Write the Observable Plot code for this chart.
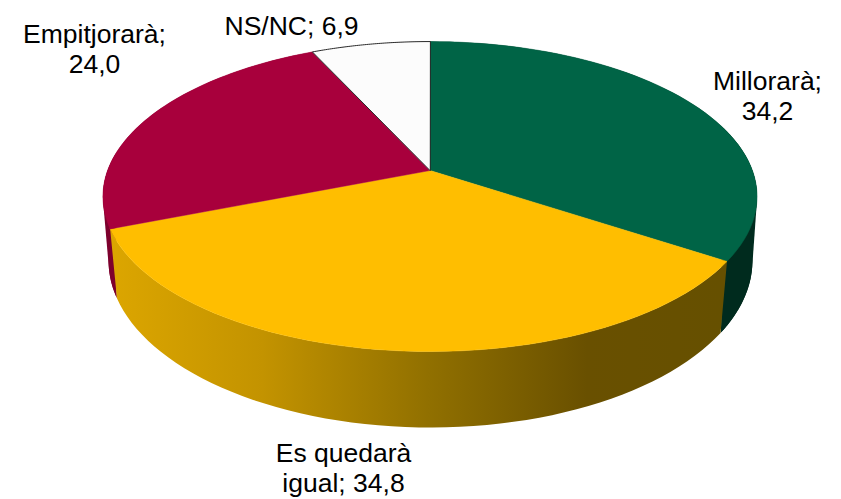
<!DOCTYPE html>
<html>
<head>
<meta charset="utf-8">
<script src="https://cdn.jsdelivr.net/npm/d3@7"></script>
<script src="https://cdn.jsdelivr.net/npm/@observablehq/plot@0.6"></script>
<style>html,body{margin:0;padding:0;background:#fff}svg{display:block}</style>
</head>
<body>
<div id="chart"></div>
<script>
// Data, clockwise from 12 o'clock
const categories = ["Millorarà", "Es quedarà igual", "Empitjorarà", "NS/NC"];
const values = [34.2, 34.8, 24.0, 6.9];
const valueLabels = ["34,2", "34,8", "24,0", "6,9"];

// Styles
const topColors = ["#006446", "#ffbe00", "#a8003c", "#fcfcfc"];
const sideColors = ["#002b1e", "url(#yellowSide)", "#7d002d", "#bbbbbb"];

// Perspective pie geometry
const W = 841, H = 499;
const topFace = {cx: 429.5, cy: 170, a: 322.4, b: 150.6, k: 0.168};
const bottomFace = {cx: 430, cy: 235, a: 318.3, b: 163.2, k: 0.15};
const project = (f, t) => {
  const sx = Math.sin(t), sy = Math.cos(t), d = 1 + f.k * sy;
  return [f.cx + f.a * sx / d, f.cy - f.b * sy / d];
};

const total = d3.sum(values);
const arcs = [];
let acc = 0;
values.forEach((v, i) => {
  arcs.push({i, t0: acc / total * 2 * Math.PI, t1: (acc + v) / total * 2 * Math.PI});
  acc += v;
});
// last slice closes the circle
arcs[arcs.length - 1].t1 = 2 * Math.PI;

const steps = (a) => d3.range(0, 61).map(j => a.t0 + (a.t1 - a.t0) * j / 60);

const topPts = arcs.flatMap(a => [
  {id: a.i, x: topFace.cx, y: topFace.cy},
  ...steps(a).map(t => { const [x, y] = project(topFace, t); return {id: a.i, x, y}; })
]);
const sidePts = arcs.flatMap(a => {
  const up = steps(a).map(t => project(topFace, t));
  const dn = steps(a).map(t => project(bottomFace, t)).reverse();
  return [...up, ...dn].map(([x, y]) => ({id: a.i, x, y}));
});

// Outer silhouette of the cylinder, for the walls seen at the far left and right
const allAngles = d3.range(0, 720).map(j => j / 720 * 2 * Math.PI);
const hull = d3.polygonHull(allAngles.flatMap(t => [project(topFace, t), project(bottomFace, t)]));
const rightEdgeX = project(bottomFace, arcs[0].t1)[0];
const leftEdgeX = project(bottomFace, arcs[1].t1)[0];
const hullRight = hull.filter(([x]) => x >= rightEdgeX).map(([x, y]) => ({x, y}));
const hullLeft = hull.filter(([x]) => x <= leftEdgeX).map(([x, y]) => ({x, y}));

const labelRows = [
  {t: `Millorarà;\n${valueLabels[0]}`, x: 767, y: 95},
  {t: `Es quedarà\nigual; ${valueLabels[1]}`, x: 343, y: 467},
  {t: `Empitjorarà;\n${valueLabels[2]}`, x: 94, y: 48},
  {t: `NS/NC; ${valueLabels[3]}`, x: 291, y: 25}
];

const defs = () => {
  const s = document.createElementNS("http://www.w3.org/2000/svg", "defs");
  s.innerHTML = `<linearGradient id="yellowSide" gradientUnits="userSpaceOnUse" x1="109" x2="721" y1="0" y2="0">
    <stop offset="0" stop-color="#dca600"/>
    <stop offset="0.25" stop-color="#c39300"/>
    <stop offset="0.52" stop-color="#917000"/>
    <stop offset="0.78" stop-color="#695000"/>
    <stop offset="1" stop-color="#665000"/>
  </linearGradient>`;
  return s;
};

const chart = Plot.plot({
  width: W, height: H,
  margin: 0,
  x: {domain: [0, W], range: [0, W], axis: null},
  y: {domain: [0, H], range: [0, H], axis: null},
  style: {background: "#fff", fontFamily: "'Liberation Sans', Arial, sans-serif"},
  marks: [
    defs,
    Plot.line(hullRight, {x: "x", y: "y", curve: "linear-closed", fill: sideColors[0], stroke: "none"}),
    Plot.line(hullLeft, {x: "x", y: "y", curve: "linear-closed", fill: sideColors[2], stroke: "none"}),
    // back slices first, then the visible walls
    ...[3, 2, 0, 1].map(i => Plot.line(sidePts.filter(d => d.id === i), {
      x: "x", y: "y", curve: "linear-closed", fill: sideColors[i], stroke: "none"
    })),
    ...[0, 1, 2].map(i => Plot.line(topPts.filter(d => d.id === i), {
      x: "x", y: "y", curve: "linear-closed", fill: topColors[i], stroke: topColors[i], strokeWidth: 0.5
    })),
    Plot.line(topPts.filter(d => d.id === 3), {
      x: "x", y: "y", curve: "linear-closed", fill: topColors[3], stroke: "#2a2a2a", strokeWidth: 1
    }),
    Plot.text(labelRows, {
      x: "x", y: "y", text: "t", fontSize: 26.5, fill: "#000", textAnchor: "middle", lineHeight: 1.13
    })
  ]
});
document.getElementById("chart").append(chart);
</script>
</body>
</html>
